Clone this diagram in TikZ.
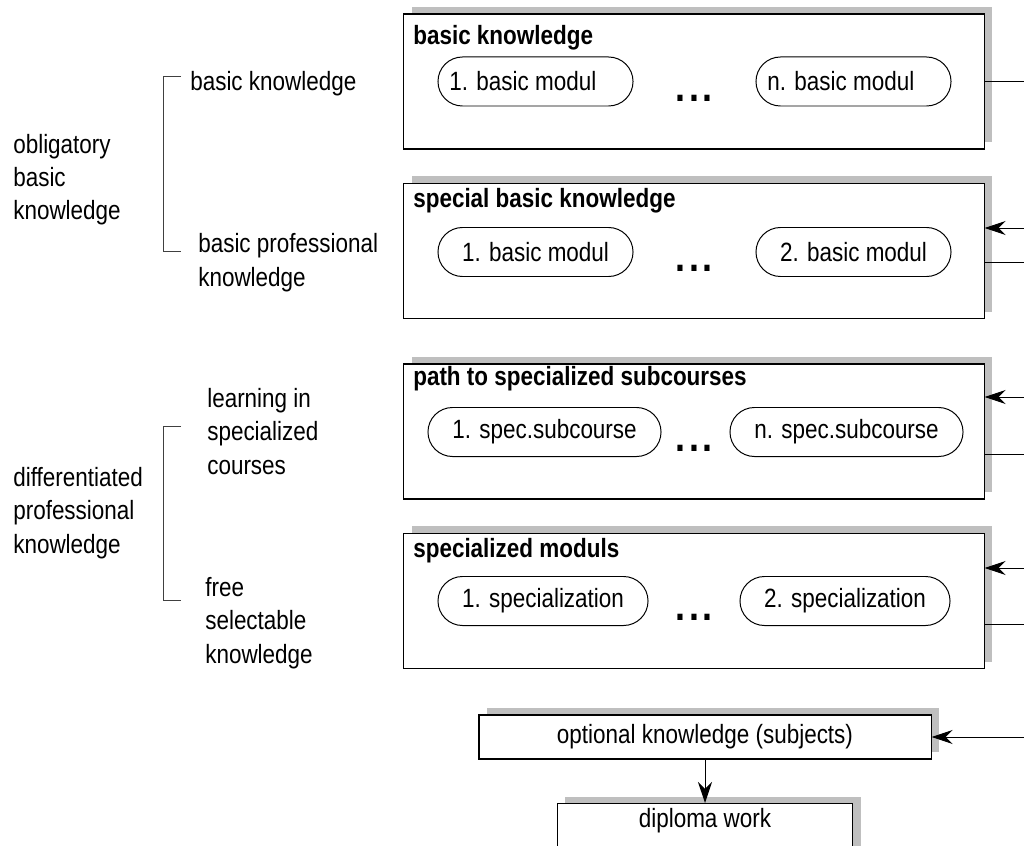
\documentclass[tikz,border=0pt]{standalone}
\usepackage{fontspec}
\setmainfont{Liberation Sans}[FakeStretch=0.85]
\usetikzlibrary{arrows.meta,shadows,shapes.misc}

\tikzset{
  kbox/.style={draw, line width=0.8pt, fill=white, inner sep=0pt,
    drop shadow={shadow xshift=0.2cm, shadow yshift=0.175cm, fill=black!25, opacity=1}},
  kbig/.style={kbox, minimum width=14.5cm, minimum height=3.375cm},
  ttl/.style={anchor=base west, inner sep=0pt, font=\bfseries},
  modl/.style={draw, rounded rectangle, line width=0.7pt, minimum height=1.225cm, inner xsep=0pt},
  lbl/.style={anchor=base west, align=left, inner sep=0pt},
  etc/.style={font=\fontsize{30pt}{30pt}\bfseries, inner sep=0pt},
  arr/.style={-{Stealth[length=15pt,width=10pt,inset=5pt]}, line width=0.7pt},
  lnk/.style={line width=0.6pt}
}
\newcommand{\etcdots}{.\hspace{2.5pt}.\hspace{2.5pt}.}

\begin{document}
\fontsize{18.8pt}{23.5pt}\selectfont
\begin{tikzpicture}[x=0.025cm,y=-0.025cm]
\useasboundingbox (0,0) rectangle (1024,846);
\clip (0,0) rectangle (1024,846);

% left column
\node[lbl] (obl) at (13,220) {obligatory\\basic\\knowledge};
\node[lbl] (bkl) at (190,91) {basic knowledge};
\node[lbl] (bpk) at (198,286) {basic professional\\knowledge};
\draw[lnk, black!75] (181,76) -| (163,251) -- (181,251);
\node[lbl] (dpk) at (13,553) {differentiated\\professional\\knowledge};
\node[lbl] (lsc) at (207,474) {learning in\\specialized\\courses};
\node[lbl] (fsk) at (205,663) {free\\selectable\\knowledge};
\draw[lnk, black!75] (181,426) -| (163,600) -- (181,600);

% module boxes
\node[kbig] (bk) at (694,81.5) {};
\node[ttl] at (413,45) {basic knowledge};
\node[modl, minimum width=4.875cm] (m11) at (535.5,81.5) {1. basic modul\kern18pt};
\node[etc] (d1) at (694,98) {\etcdots};
\node[modl, minimum width=4.875cm] (m1n) at (853.5,81.5) {n. basic modul\kern18pt};

\node[kbig] (sbk) at (694,251) {};
\node[ttl] at (413,208) {special basic knowledge};
\node[modl, minimum width=4.875cm] (m21) at (535.5,252) {1. basic modul};
\node[etc] (d2) at (694,268) {\etcdots};
\node[modl, minimum width=4.875cm] (m22) at (853.5,252) {2. basic modul};

\node[kbig] (psc) at (694,431.5) {};
\node[ttl] at (413,385) {path to specialized subcourses};
\node[modl, minimum width=5.825cm] (m31) at (544.5,432) {1. spec.subcourse};
\node[etc] (d3) at (694,448) {\etcdots};
\node[modl, minimum width=5.825cm] (m3n) at (846.5,432) {n. spec.subcourse};

\node[kbig] (spm) at (694,601) {};
\node[ttl] at (413,557) {specialized moduls};
\node[modl, minimum width=5.25cm] (m41) at (543,601) {1. specialization};
\node[etc] (d4) at (694,617) {\etcdots};
\node[modl, minimum width=5.25cm] (m42) at (845,601) {2. specialization};

\node[kbox, minimum width=11.3cm, minimum height=1.1cm] (opt) at (705,737) {optional knowledge (subjects)};
\node[kbox, anchor=north, minimum width=7.375cm, inner ysep=0.125cm,
  text height=0.48cm, text depth=1cm] (dip) at (705,803) {diploma work};

% right side links
\coordinate (out1) at (1024,81);
\coordinate (in2) at (1024,228);
\coordinate (out2) at (1024,262);
\coordinate (in3) at (1024,397);
\coordinate (out3) at (1024,454);
\coordinate (in4) at (1024,568);
\coordinate (out4) at (1024,624);
\coordinate (in5) at (1024,737);
\draw[lnk] (bk.east |- out1) -- (out1);
\draw[arr] (in2) -- (in2 -| sbk.east);
\draw[lnk] (sbk.east |- out2) -- (out2);
\draw[arr] (in3) -- (in3 -| psc.east);
\draw[lnk] (psc.east |- out3) -- (out3);
\draw[arr] (in4) -- (in4 -| spm.east);
\draw[lnk] (spm.east |- out4) -- (out4);
\draw[arr] (in5) -- (opt.east);
\draw[arr] (opt) -- (dip);
\end{tikzpicture}
\end{document}
